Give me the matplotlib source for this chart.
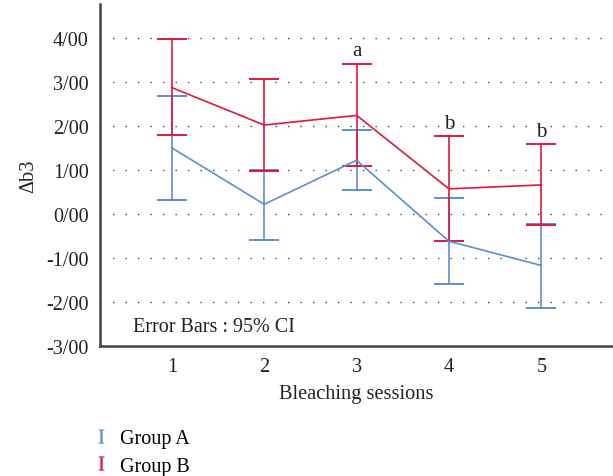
import matplotlib.pyplot as plt
import numpy as np
from matplotlib.lines import Line2D

plt.rcParams['font.family'] = ['Liberation Serif', 'DejaVu Serif']

sessions = [1, 2, 3, 4, 5]
a_mean = [1.50, 0.22, 1.22, -0.62, -1.17]
a_low = [0.32, -0.60, 0.55, -1.60, -2.13]
a_high = [2.68, 1.00, 1.91, 0.36, -0.22]
b_mean = [2.87, 2.02, 2.24, 0.57, 0.66]
b_low = [1.80, 0.98, 1.08, -0.61, -0.25]
b_high = [3.98, 3.07, 3.41, 1.77, 1.58]
marks = ["", "", "a", "b", "b"]
yticks = [-3, -2, -1, 0, 1, 2, 3, 4]
ytick_labels = ["-3/00", "-2/00", "-1/00", "0/00", "1/00", "2/00", "3/00", "4/00"]

blue = '#5b8fd2'
red = '#e0173f'

fig = plt.figure(figsize=(6.13, 4.77), dpi=100)
ax = fig.add_axes([0.163, 0.2725, 0.836, 0.717])

am = np.array(a_mean)
bm = np.array(b_mean)
ax.errorbar(sessions, a_mean, yerr=[am - np.array(a_low), np.array(a_high) - am],
            color=blue, lw=1.2, capsize=10.5, capthick=1.4)
ax.errorbar(sessions, b_mean, yerr=[bm - np.array(b_low), np.array(b_high) - bm],
            color=red, lw=1.2, capsize=10.5, capthick=1.4)

for x, m, h in zip(sessions, marks, b_high):
    if m:
        ax.text(x, h + 0.08, m, ha='center', va='bottom', fontsize=15, color='#222222')

ax.text(0.58, -2.55, "Error Bars : 95% CI", fontsize=14.5, va='center', color='#222222')

ax.set_xlim(0.22, 5.77)
ax.set_ylim(-3, 4.77)
ax.set_xticks(sessions)
ax.set_yticks(yticks)
ax.set_yticklabels(ytick_labels)
ax.tick_params(length=0, labelsize=14.5, colors='#222222', pad=8)
for y in yticks[1:]:
    ax.axhline(y, color='#444444', lw=1.0, ls=(0, (1, 8)), zorder=0)

for s in ['top', 'right']:
    ax.spines[s].set_visible(False)
for s in ['left', 'bottom']:
    ax.spines[s].set_linewidth(1.8)
    ax.spines[s].set_color('#444444')

ax.set_xlabel("Bleaching sessions", fontsize=14.7, color='#222222', labelpad=6)
ax.set_ylabel("Δb3", fontsize=14.7, color='#222222', labelpad=6)

h1 = Line2D([], [], color=blue, marker='$\\mathregular{I}$', ls='none', markersize=10, markeredgewidth=0.2)
h2 = Line2D([], [], color=red, marker='$\\mathregular{I}$', ls='none', markersize=10, markeredgewidth=0.2)
fig.legend([h1, h2], ['Group A', 'Group B'], loc='upper left', bbox_to_anchor=(0.128, 0.1275),
           frameon=False, fontsize=14.5, handlelength=0.8, handletextpad=0.55, labelspacing=0.4,
           borderpad=0.2)

plt.savefig("out.png", dpi=100)
